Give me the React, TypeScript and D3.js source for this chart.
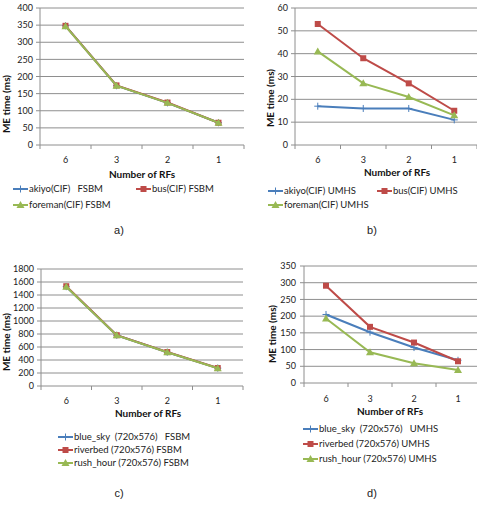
import React from "react";
import * as d3 from "d3";

const categories = ["6", "3", "2", "1"];

// Panel a (FSBM, CIF)
const aTicks = [0, 50, 100, 150, 200, 250, 300, 350, 400];
const akiyoFSBM = [348, 173, 123, 65];
const busFSBM = [348, 174, 124, 65];
const foremanFSBM = [347, 173, 123, 65];

// Panel b (UMHS, CIF)
const bTicks = [0, 10, 20, 30, 40, 50, 60];
const akiyoUMHS = [17, 16, 16, 11];
const busUMHS = [53, 38, 27, 15];
const foremanUMHS = [41, 27, 21, 13];

// Panel c (FSBM, 720x576)
const cTicks = [0, 200, 400, 600, 800, 1000, 1200, 1400, 1600, 1800];
const blueSkyFSBM = [1528, 780, 520, 275];
const riverbedFSBM = [1535, 782, 522, 276];
const rushHourFSBM = [1527, 779, 519, 274];

// Panel d (UMHS, 720x576)
const dTicks = [0, 50, 100, 150, 200, 250, 300, 350];
const blueSkyUMHS = [205, 152, 106, 68];
const riverbedUMHS = [291, 168, 121, 65];
const rushHourUMHS = [193, 92, 59, 39];

const BLUE = "#4A7EBB";
const RED = "#BE4B48";
const GREEN = "#98B954";
const GRID = "#8E8E8E";
const FONT = "Lato, 'Liberation Sans', sans-serif";

type Series = { name: string; values: number[]; color: string; marker: "plus" | "square" | "tri" };
type LegendItem = { x: number; y: number; idx: number };

function Marker({ kind, x, y, color }: { kind: string; x: number; y: number; color: string }) {
  if (kind === "square") return <rect x={x - 3} y={y - 3} width={6} height={6} fill={color} />;
  if (kind === "tri") {
    const p = d3.path();
    p.moveTo(x, y - 4);
    p.lineTo(x + 4, y + 3);
    p.lineTo(x - 4, y + 3);
    p.closePath();
    return <path d={p.toString()} fill={color} />;
  }
  return (
    <g stroke={color} strokeWidth={1}>
      <line x1={x - 3.5} x2={x + 3.5} y1={y} y2={y} />
      <line x1={x} x2={x} y1={y - 3.5} y2={y + 3.5} />
    </g>
  );
}

function Panel(props: {
  left: number; right: number; top: number; bottom: number;
  ticks: number[]; series: Series[];
  yLabelX: number; yTitleX: number; yTitleY: number;
  xLabelY: number; xTitleX: number; xTitleY: number;
  legend: LegendItem[]; caption: string; capX: number; capY: number;
}) {
  const { left, right, top, bottom, ticks, series } = props;
  const y = d3.scaleLinear().domain([0, ticks[ticks.length - 1]]).range([bottom, top]);
  const x = d3.scaleBand().domain(categories).range([left, right]).padding(0);
  const cx = (c: string) => (x(c) as number) + x.bandwidth() / 2;
  const line = d3.line<number>().x((_, i) => cx(categories[i])).y((v) => y(v));
  const bounds = [...categories.map((c) => x(c) as number), right];
  return (
    <g fontFamily={FONT}>
      {ticks.map((t) => (
        <g key={t}>
          {t > 0 && <line x1={left} x2={right} y1={y(t)} y2={y(t)} stroke={GRID} strokeWidth={1} />}
          <line x1={left - 4} x2={left} y1={y(t)} y2={y(t)} stroke={GRID} />
          <text x={props.yLabelX} y={y(t)} dy="0.35em" textAnchor="end" fontSize={9} fill="#222">{t}</text>
        </g>
      ))}
      <line x1={left} x2={left} y1={top} y2={bottom} stroke={GRID} />
      <line x1={left} x2={right} y1={bottom} y2={bottom} stroke={GRID} />
      {bounds.map((b, i) => (
        <line key={i} x1={b} x2={b} y1={bottom} y2={bottom + 4} stroke={GRID} />
      ))}
      {categories.map((c) => (
        <text key={c} x={cx(c)} y={props.xLabelY} dy="0.35em" textAnchor="middle" fontSize={9} fill="#222">{c}</text>
      ))}
      <text x={props.xTitleX} y={props.xTitleY} dy="0.35em" textAnchor="middle" fontSize={10} fontWeight="bold" fill="#111">Number of RFs</text>
      <text transform={`translate(${props.yTitleX},${props.yTitleY}) rotate(-90)`} dy="0.35em" textAnchor="middle" fontSize={10} fontWeight="bold" fill="#111">ME time (ms)</text>
      {series.map((s) => (
        <g key={s.name}>
          <path d={line(s.values) as string} fill="none" stroke={s.color} strokeWidth={2} />
          {s.values.map((v, i) => (
            <Marker key={i} kind={s.marker} x={cx(categories[i])} y={y(v)} color={s.color} />
          ))}
        </g>
      ))}
      {props.legend.map((l) => {
        const s = series[l.idx];
        return (
          <g key={l.idx}>
            <line x1={l.x} x2={l.x + 15} y1={l.y} y2={l.y} stroke={s.color} strokeWidth={2} />
            <Marker kind={s.marker} x={l.x + 7.5} y={l.y} color={s.color} />
            <text x={l.x + 16} y={l.y} dy="0.35em" fontSize={9.5} fill="#222" style={{ whiteSpace: "pre" }}>{s.name}</text>
          </g>
        );
      })}
      <text x={props.capX} y={props.capY} dy="0.35em" textAnchor="middle" fontSize={11} fontFamily="'Liberation Sans', Arial, sans-serif" fill="#222">{props.caption}</text>
    </g>
  );
}

export default function App() {
  const seriesA: Series[] = [
    { name: "akiyo(CIF)   FSBM", values: akiyoFSBM, color: BLUE, marker: "plus" },
    { name: "bus(CIF) FSBM", values: busFSBM, color: RED, marker: "square" },
    { name: "foreman(CIF) FSBM", values: foremanFSBM, color: GREEN, marker: "tri" },
  ];
  const seriesB: Series[] = [
    { name: "akiyo(CIF) UMHS", values: akiyoUMHS, color: BLUE, marker: "plus" },
    { name: "bus(CIF) UMHS", values: busUMHS, color: RED, marker: "square" },
    { name: "foreman(CIF) UMHS", values: foremanUMHS, color: GREEN, marker: "tri" },
  ];
  const seriesC: Series[] = [
    { name: "blue_sky  (720x576)   FSBM", values: blueSkyFSBM, color: BLUE, marker: "plus" },
    { name: "riverbed (720x576) FSBM", values: riverbedFSBM, color: RED, marker: "square" },
    { name: "rush_hour (720x576) FSBM", values: rushHourFSBM, color: GREEN, marker: "tri" },
  ];
  const seriesD: Series[] = [
    { name: "blue_sky  (720x576)   UMHS", values: blueSkyUMHS, color: BLUE, marker: "plus" },
    { name: "riverbed (720x576) UMHS", values: riverbedUMHS, color: RED, marker: "square" },
    { name: "rush_hour (720x576) UMHS", values: rushHourUMHS, color: GREEN, marker: "tri" },
  ];
  return (
    <svg width={477} height={506} style={{ position: "absolute", left: 0, top: 0, background: "#fff" }}>
      <rect width={477} height={506} fill="#fff" />
      <Panel left={40} right={244} top={8} bottom={145} ticks={aTicks} series={seriesA}
        yLabelX={33} yTitleX={6} yTitleY={104} xLabelY={160} xTitleX={142} xTitleY={174}
        legend={[{ x: 13, y: 189, idx: 0 }, { x: 136, y: 189, idx: 1 }, { x: 13, y: 205, idx: 2 }]}
        caption="a)" capX={119} capY={230} />
      <Panel left={295} right={477} top={8} bottom={145} ticks={bTicks} series={seriesB}
        yLabelX={288} yTitleX={270} yTitleY={98} xLabelY={160} xTitleX={397} xTitleY={172}
        legend={[{ x: 268, y: 191, idx: 0 }, { x: 377, y: 191, idx: 1 }, { x: 268, y: 205, idx: 2 }]}
        caption="b)" capX={372} capY={230} />
      <Panel left={41} right={243} top={269} bottom={386} ticks={cTicks} series={seriesC}
        yLabelX={34} yTitleX={6} yTitleY={342} xLabelY={401} xTitleX={148} xTitleY={413}
        legend={[{ x: 58, y: 437, idx: 0 }, { x: 58, y: 450, idx: 1 }, { x: 58, y: 463, idx: 2 }]}
        caption="c)" capX={119} capY={493} />
      <Panel left={304} right={480} top={266} bottom={383} ticks={dTicks} series={seriesD}
        yLabelX={296} yTitleX={272} yTitleY={334} xLabelY={399} xTitleX={390} xTitleY={411}
        legend={[{ x: 303, y: 429, idx: 0 }, { x: 303, y: 444, idx: 1 }, { x: 303, y: 459, idx: 2 }]}
        caption="d)" capX={372} capY={493} />
    </svg>
  );
}
